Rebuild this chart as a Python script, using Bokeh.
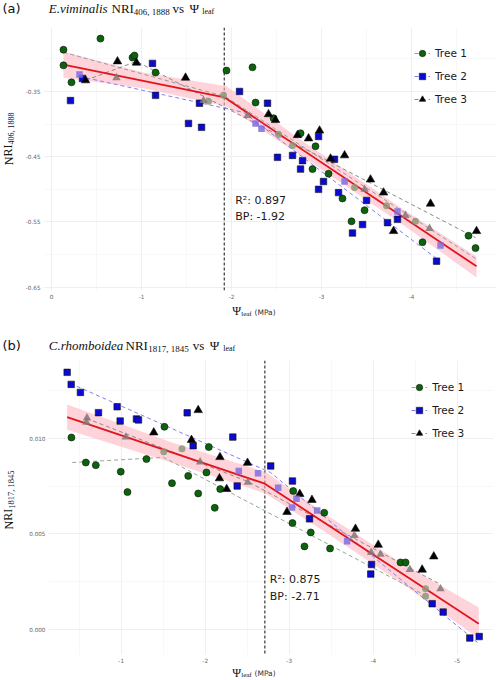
from bokeh.plotting import figure
from bokeh.models import (Range1d, FixedTicker, CustomJSTickFormatter, Label,
                          Legend, LegendItem, Span)
from bokeh.layouts import column, row
from bokeh.embed import file_html
from bokeh.resources import INLINE

SERIF = "Liberation Serif"
SANS = "DejaVu Sans"

# ---------------- Panel (a): E. viminalis ----------------
a_t1_x = [-0.133, -0.544, -0.133, -0.222, -0.90, -0.922, -1.156, -1.944, -2.233, -2.267, -2.467,
          -2.767, -2.933, -2.90, -3.078, -3.233, -3.478, -3.333, -4.122, -4.633, -4.711]
a_t1_y = [-0.286, -0.269, -0.310, -0.336, -0.298, -0.295, -0.321, -0.318, -0.313, -0.367, -0.391,
          -0.414, -0.434, -0.469, -0.476, -0.514, -0.532, -0.549, -0.581, -0.571, -0.590]
a_t2_x = [-0.211, -0.344, -1.122, -1.156, -1.644, -1.522, -1.667, -2.089, -2.40, -2.511, -2.678,
          -2.789, -2.767, -2.967, -3.144, -3.022, -2.967, -3.189, -3.50, -3.456, -3.344, -3.733,
          -3.844, -4.278]
a_t2_y = [-0.364, -0.330, -0.307, -0.356, -0.368, -0.399, -0.405, -0.350, -0.368, -0.451, -0.448,
          -0.456, -0.469, -0.419, -0.454, -0.488, -0.500, -0.505, -0.517, -0.554, -0.567, -0.551,
          -0.546, -0.610]
a_t3_x = [-0.378, -0.733, -0.944, -1.489, -2.411, -2.489, -2.733, -2.856, -2.978, -3.10, -3.256,
          -3.544, -3.689, -3.80, -4.211, -4.722]
a_t3_y = [-0.333, -0.304, -0.306, -0.329, -0.385, -0.394, -0.417, -0.422, -0.410, -0.453, -0.448,
          -0.485, -0.505, -0.564, -0.522, -0.564]
# fitted per-tree values (faded markers)
a_f1_x = [-1.744, -1.911, -2.522, -2.678, -3.367, -3.722, -4.044]
a_f1_y = [-0.365, -0.356, -0.416, -0.433, -0.497, -0.525, -0.549]
a_f2_x = [-0.311, -2.267, -2.333, -3.256, -3.844, -4.322]
a_f2_y = [-0.324, -0.399, -0.407, -0.488, -0.534, -0.586]
a_f3_x = [-0.722, -1.689, -2.178, -3.478, -3.933, -4.20]
a_f3_y = [-0.329, -0.364, -0.387, -0.500, -0.540, -0.560]
# per-tree segmented fits
a_l1_x = [-0.133, -1.933, -4.711]
a_l1_y = [-0.290, -0.358, -0.606]
a_l2_x = [-0.311, -2.133, -4.278]
a_l2_y = [-0.327, -0.382, -0.606]
a_l3_x = [-0.378, -0.944, -4.711]
a_l3_y = [-0.333, -0.304, -0.574]
# pooled segmented fit and confidence band
a_fit_x = [-0.133, -1.92, -4.722]
a_fit_y = [-0.309, -0.359, -0.618]
a_band_x = [-0.133, -1.022, -1.944, -2.80, -3.911, -4.722]
a_band_lo = [-0.329, -0.345, -0.373, -0.451, -0.555, -0.635]
a_band_hi = [-0.289, -0.321, -0.342, -0.427, -0.531, -0.603]
a_r2 = "0.897"
a_bp = -1.92
a_xticks = [0, -1, -2, -3, -4]
a_xminor = [-0.5, -1.5, -2.5, -3.5, -4.5]
a_yticks = [-0.35, -0.45, -0.55, -0.65]
a_yminor = [-0.30, -0.40, -0.50, -0.60]

# ---------------- Panel (b): C. rhomboidea ----------------
b_t1_x = [-0.408, -0.579, -0.698, -0.995, -1.075, -1.301, -1.515, -1.605, -1.798, -1.917, -2.015,
          -2.043, -2.114, -2.179, -3.048, -3.417, -3.039, -3.257, -3.182, -3.486, -4.325, -4.385]
b_t1_y = [0.01005, 0.00874, 0.00860, 0.00826, 0.00719, 0.00892, 0.01061, 0.00766, 0.00804, 0.00712,
          0.00822, 0.00955, 0.00637, 0.00735, 0.00725, 0.00611, 0.00557, 0.00508, 0.00435, 0.00424,
          0.00351, 0.00351]
b_t2_x = [-0.357, -0.405, -0.515, -0.730, -0.952, -0.988, -1.182, -1.206, -1.786, -1.857, -2.329,
          -2.381, -2.780, -3.039, -3.242, -3.980, -3.971, -4.702, -4.833, -5.150, -5.262]
b_t2_y = [0.01346, 0.01283, 0.01241, 0.01135, 0.01166, 0.01091, 0.01102, 0.01097, 0.01134, 0.00962,
          0.01007, 0.00751, 0.00856, 0.00777, 0.00579, 0.00340, 0.00290, 0.00135, 0.00091, -0.00045,
          -0.00037]
b_t3_x = [-1.388, -1.837, -1.917, -2.176, -2.170, -2.256, -2.504, -2.974, -3.126, -3.271, -3.789,
          -4.060, -4.583, -4.721]
b_t3_y = [0.01031, 0.00992, 0.01148, 0.00902, 0.00791, 0.00735, 0.00872, 0.00615, 0.00709, 0.00678,
          0.00527, 0.00443, 0.00313, 0.00382]
b_f1_x = [-1.507, -1.724, -4.623, -4.623]
b_f1_y = [0.00930, 0.00946, 0.00213, 0.00174]
b_f2_x = [-2.400, -2.629, -2.869, -3.087, -3.033, -3.333, -3.690]
b_f2_y = [0.00829, 0.00818, 0.00742, 0.00684, 0.00639, 0.00623, 0.00462]
b_f3_x = [-0.593, -0.587, -1.055, -1.940, -2.507, -3.777, -3.976, -4.087, -4.436, -4.801]
b_f3_y = [0.01107, 0.01084, 0.01007, 0.00877, 0.00770, 0.00492, 0.00403, 0.00393, 0.00314, 0.00213]
b_l1_x = [-0.417, -1.504, -4.622]
b_l1_y = [0.00874, 0.00901, 0.00178]
b_l2_x = [-0.396, -2.777, -5.242]
b_l2_y = [0.01288, 0.00822, -0.00068]
b_l3_x = [-0.587, -2.504, -4.801]
b_l3_y = [0.01105, 0.00775, 0.00236]
b_fit_x = [-0.357, -2.71, -5.257]
b_fit_y = [0.01112, 0.00763, 0.00030]
b_band_x = [-0.357, -1.587, -2.718, -3.492, -4.325, -5.257]
b_band_lo = [0.01045, 0.00876, 0.00712, 0.00492, 0.00246, -0.00047]
b_band_hi = [0.01178, 0.00981, 0.00824, 0.00586, 0.00351, 0.00115]
b_r2 = "0.875"
b_bp = -2.71
b_xticks = [-1, -2, -3, -4, -5]
b_xminor = [-0.5, -1.5, -2.5, -3.5, -4.5]
b_yticks = [0.0, 0.005, 0.010]
b_yminor = [0.0025, 0.0075, 0.0125]

tree_labels = ["Tree 1", "Tree 2", "Tree 3"]

PT_COL = ["#0b640b", "#0a0ad0", "#000000"]
PT_MARK = ["circle", "square", "triangle"]
PT_SIZE = [7, 6.5, 8.5]
FADE_COL = ["#8d9878", "#7d6fe0", "#857575"]


def panel(fw, fh, ml, mb, xr, yr, xt, xm, yt, ym, ydig,
          t_x, t_y, f_x, f_y, l_x, l_y, line_cols, fit_x, fit_y, band_x, band_lo, band_hi,
          bp, r2, r2_pos, legend_loc):
    p = figure(frame_width=fw, frame_height=fh, x_range=Range1d(*xr), y_range=Range1d(*yr),
               output_backend="svg", toolbar_location=None,
               min_border_left=ml, min_border_right=8, min_border_top=0, min_border_bottom=mb)
    p.outline_line_color = None
    p.background_fill_color = "white"
    p.border_fill_color = "white"
    p.xaxis.ticker = FixedTicker(ticks=xt, minor_ticks=xm)
    p.yaxis.ticker = FixedTicker(ticks=yt, minor_ticks=ym)
    p.xaxis.formatter = CustomJSTickFormatter(code="return tick.toFixed(0);")
    p.yaxis.formatter = CustomJSTickFormatter(code="return tick.toFixed(%d);" % ydig)
    for ax in (p.xaxis, p.yaxis):
        ax.axis_line_color = None
        ax.major_tick_line_color = None
        ax.minor_tick_line_color = None
        ax.major_tick_out = 0
        ax.major_tick_in = 0
        ax.minor_tick_out = 0
        ax.minor_tick_in = 0
        ax.major_label_text_font = SANS
        ax.major_label_text_font_size = "5.7px"
        ax.major_label_text_color = "#666666"
        ax.major_label_standoff = 3
    for g in (p.xgrid, p.ygrid):
        g.grid_line_color = "#ebebeb"
        g.grid_line_width = 0.8
        g.minor_grid_line_color = "#f3f3f3"
        g.minor_grid_line_width = 0.6

    p.varea(x=band_x, y1=band_lo, y2=band_hi, fill_color="#ffb6c1", fill_alpha=0.6)
    p.add_layout(Span(location=bp, dimension="height", line_color="#505050",
                      line_dash="3 2", line_width=1.4, level="underlay"))
    lines = []
    for i in range(3):
        lines.append(p.line(l_x[i], l_y[i], line_color=line_cols[i], line_dash="4 3", line_width=1))
    p.line(fit_x, fit_y, line_color="#e3141c", line_width=1.8)
    pts = []
    for i in range(3):
        pts.append(p.scatter(t_x[i], t_y[i], marker=PT_MARK[i], size=PT_SIZE[i],
                             fill_color=PT_COL[i], line_color="#111111", line_width=0.6))
    for i in range(3):
        p.scatter(f_x[i], f_y[i], marker=PT_MARK[i], size=PT_SIZE[i],
                  fill_color=FADE_COL[i], fill_alpha=0.85, line_color=None)

    p.add_layout(Label(x=r2_pos[0], y=r2_pos[1], text="R\u00b2: " + r2, text_font=SANS,
                       text_font_size="11px", text_baseline="middle", text_color="#1a1a1a"))
    p.add_layout(Label(x=r2_pos[0], y=r2_pos[2], text="BP: %.2f" % bp, text_font=SANS,
                       text_font_size="11px", text_baseline="middle", text_color="#1a1a1a"))

    items = [LegendItem(label=tree_labels[i], renderers=[lines[i], pts[i]]) for i in range(3)]
    leg = Legend(items=items, location=legend_loc, glyph_width=16, glyph_height=20, spacing=3,
                 label_standoff=5, padding=0, margin=0, border_line_color=None,
                 background_fill_alpha=0, label_text_font=SANS, label_text_font_size="10.5px",
                 label_text_color="#1a1a1a")
    p.add_layout(leg)
    return p


def text_fig(w, h):
    f = figure(width=w, height=h, x_range=Range1d(0, w), y_range=Range1d(0, h),
               output_backend="svg", toolbar_location=None, x_axis_type=None, y_axis_type=None,
               min_border_left=0, min_border_right=0, min_border_top=0, min_border_bottom=0)
    f.outline_line_color = None
    f.background_fill_color = "white"
    f.border_fill_color = "white"
    return f


def txt(p, x, y, text, font=SERIF, size="13px", style="normal", angle=0, color="#111111"):
    p.add_layout(Label(x=x, y=y, x_units="screen", y_units="screen", text=text, text_font=font,
                       text_font_size=size, text_font_style=style, text_baseline="middle",
                       text_align="left", angle=angle, text_color=color))


# ---- panel (a): frame 453 x 263 (page x 40..493, y 27..290) ----
pa = panel(453, 263, 18, 12, (0.089, -4.944), (-0.655, -0.252), a_xticks, a_xminor,
           a_yticks, a_yminor, 2,
           [a_t1_x, a_t2_x, a_t3_x], [a_t1_y, a_t2_y, a_t3_y],
           [a_f1_x, a_f2_x, a_f3_x], [a_f1_y, a_f2_y, a_f3_y],
           [a_l1_x, a_l2_x, a_l3_x], [a_l1_y, a_l2_y, a_l3_y],
           ["#9a9a9a", "#8080f0", "#8a8a8a"],
           a_fit_x, a_fit_y, a_band_x, a_band_lo, a_band_hi, a_bp, a_r2,
           (-2.041, -0.517, -0.541), (371, 181))

ta = text_fig(501, 27)
txt(ta, 2, 19, "(a)", font=SANS, size="13px")
txt(ta, 48.3, 19, "E.viminalis", style="italic")
txt(ta, 111, 19, "NRI")
txt(ta, 133.3, 16, "406, 1888", size="9px")
txt(ta, 172, 19, "vs")
txt(ta, 189, 19, "\u03a8")
txt(ta, 201.7, 16, "leaf", size="8px")

ya = text_fig(22, 275)
txt(ya, 8, 125.3, "NRI", size="12px", angle=1.5708)
txt(ya, 11, 146, "406, 1888", size="8px", angle=1.5708)

xa = text_fig(501, 28)
txt(xa, 231.7, 20, "\u03a8", size="12px")
txt(xa, 240.7, 17, "leaf", size="7px")
txt(xa, 254, 18.3, "(MPa)", font=SANS, size="7.5px", color="#333333")

# ---- panel (b): frame 445 x 294 (page x 48..493, y 360..654) ----
pb = panel(445, 294, 26, 11, (-0.135, -5.432), (-0.00131, 0.01408), b_xticks, b_xminor,
           b_yticks, b_yminor, 3,
           [b_t1_x, b_t2_x, b_t3_x], [b_t1_y, b_t2_y, b_t3_y],
           [b_f1_x, b_f2_x, b_f3_x], [b_f1_y, b_f2_y, b_f3_y],
           [b_l1_x, b_l2_x, b_l3_x], [b_l1_y, b_l2_y, b_l3_y],
           ["#90a890", "#8080f0", "#8a8a8a"],
           b_fit_x, b_fit_y, b_band_x, b_band_lo, b_band_hi, b_bp, b_r2,
           (-2.769, 0.00260, 0.00174), (363.3, 211.3))

tb = text_fig(501, 30)
txt(tb, 2, 15, "(b)", font=SANS, size="13px")
txt(tb, 48.3, 15, "C.rhomboidea", style="italic")
txt(tb, 125, 15, "NRI")
txt(tb, 147.7, 12, "1817, 1845", size="9px")
txt(tb, 192.3, 15, "vs")
txt(tb, 209.3, 15, "\u03a8")
txt(tb, 222.7, 12, "leaf", size="8px")

yb = text_fig(22, 305)
txt(yb, 8, 125, "NRI", size="12px", angle=1.5708)
txt(yb, 11, 145.7, "1817, 1845", size="8.5px", angle=1.5708)

xb = text_fig(501, 13)
txt(xb, 231.7, 6, "\u03a8", size="12px")
txt(xb, 240.7, 4, "leaf", size="7px")
txt(xb, 254, 5.3, "(MPa)", font=SANS, size="7.5px", color="#333333")

layout = column(ta, row(ya, pa), xa, tb, row(yb, pb), xb)
open("out.html", "w").write(file_html(layout, INLINE))
